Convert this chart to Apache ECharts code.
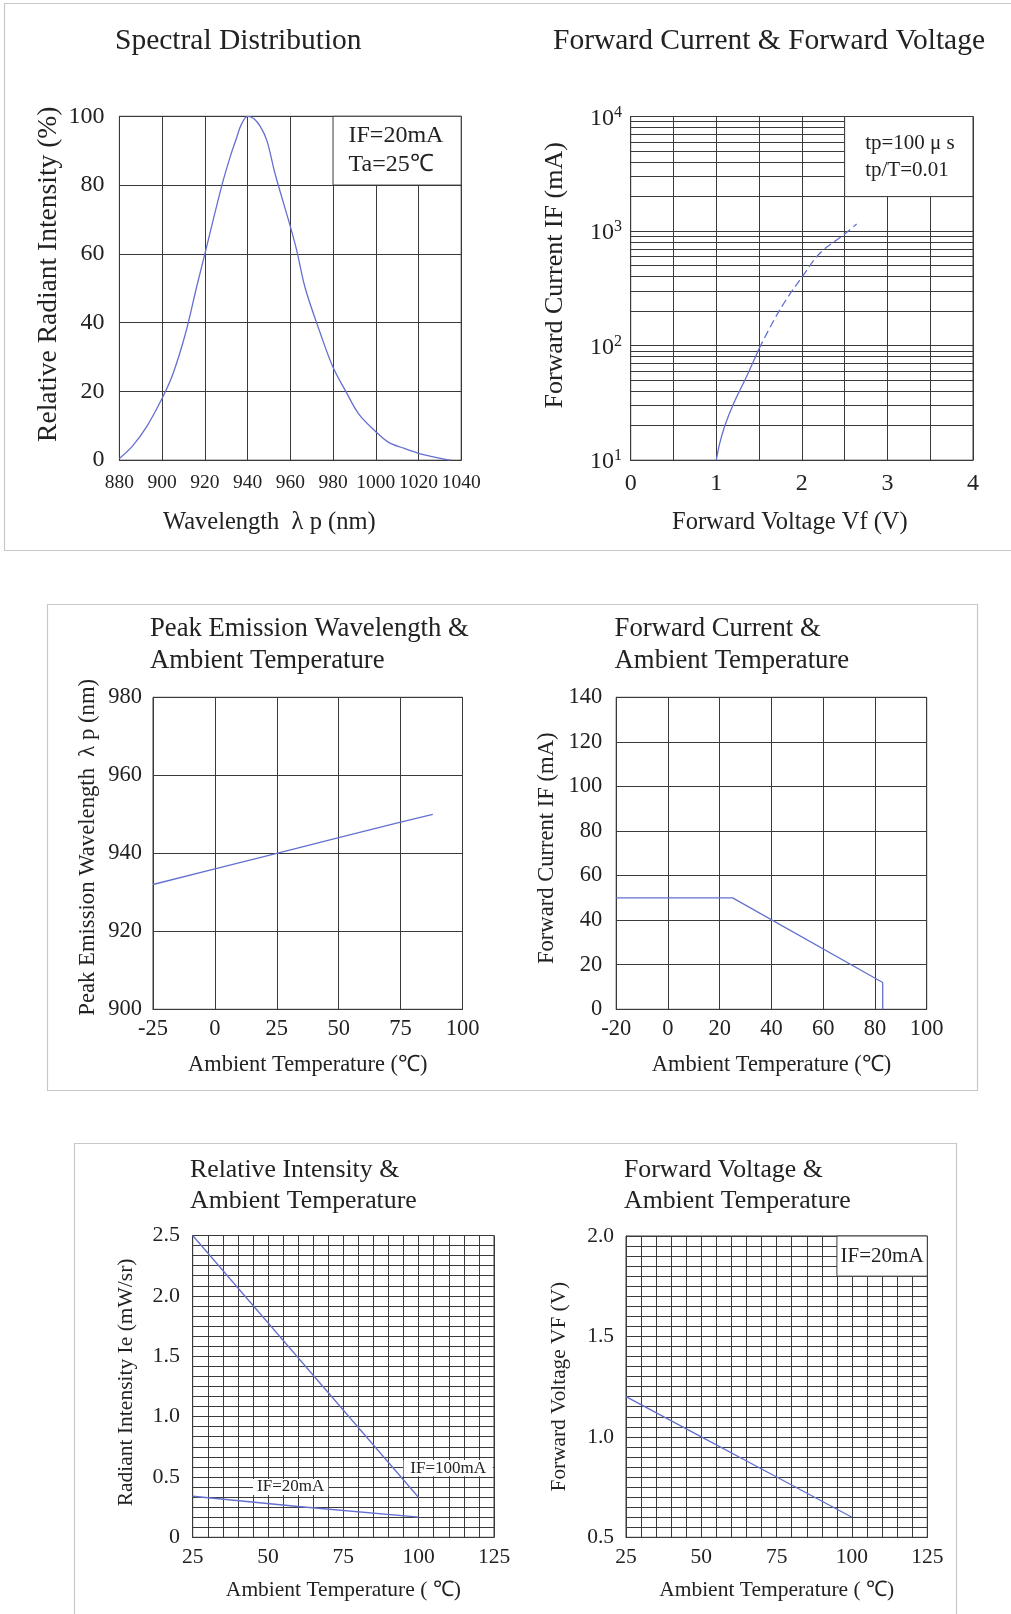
<!DOCTYPE html>
<html><head><meta charset="utf-8">
<style>html,body{margin:0;padding:0;background:#fff}#c{width:1011px;height:1614px}</style>
<script src="https://cdn.jsdelivr.net/npm/echarts@6/dist/echarts.min.js"></script>
</head><body><div id="c"></div>
<script>
// ---------- data ----------
// Panel 1: Spectral Distribution
const spectralWavelength = [880, 886, 893, 900, 905, 911, 916, 920, 928, 932, 935, 937, 940, 943, 946, 949, 953, 960, 963, 967, 974, 980, 986, 992, 1000, 1006, 1013, 1020, 1027, 1035];
const spectralIntensity  = [0.5, 4, 10, 18, 25, 37, 50, 60, 80, 88.5, 94, 97.5, 100, 99.3, 97, 93, 83, 68, 61, 50, 37, 27, 20, 13.5, 8.3, 5.2, 3.5, 2, 1, 0];
// Panel 2: Forward Current & Forward Voltage (log y)
const vfSolid  = [1.0, 1.04, 1.1, 1.2, 1.35, 1.5];
const ifSolid  = [10, 14, 20, 31, 53, 94];
const vfDashed = [1.5, 1.67, 1.82, 2.0, 2.21, 2.48, 2.64];
const ifDashed = [94, 165, 254, 395, 640, 918, 1150];
const ifMinorGrid = [20, 30, 40, 50, 60, 70, 80, 90, 200, 300, 400, 500, 600, 700, 800, 900, 2000, 3000, 4000, 5000, 6000, 7000, 8000, 9000];
// Panel 3: Peak Emission Wavelength & Ambient Temperature
const peakTemp = [-25, 0, 25, 50, 75, 88];
const peakWl   = [932, 936, 940, 944, 948, 950];
// Panel 4: Forward Current & Ambient Temperature
const ifTemp = [-20, 25, 83, 83];
const ifMax  = [50, 50, 12, 0];
// Panel 5: Relative Intensity & Ambient Temperature
const ieTemp100 = [25, 100];
const ie100     = [2.5, 0.33];
const ieTemp20  = [25, 60, 100];
const ie20      = [0.34, 0.255, 0.167];
// Panel 6: Forward Voltage & Ambient Temperature
const vfTemp = [25, 50, 75, 100];
const vfVal  = [1.2, 1.0, 0.8, 0.6];

// ---------- styling ----------
const FONT = '"Liberation Serif","Times New Roman",serif';
const TXT = '#222';
const GC = '#3a3a3a';
const LC = '#6470d0';
const FRAME = '#c8c8c8';

const pairs = (xs, ys) => xs.map((x, i) => [x, ys[i]]);

const grids = [
  {left: 119.4, top: 116.3, width: 341.8, height: 343.9},
  {left: 630.7, top: 116.5, width: 342.3, height: 343.7},
  {left: 153.0, top: 697.3, width: 309.5, height: 312.0},
  {left: 616.2, top: 697.3, width: 310.5, height: 312.0},
  {left: 192.7, top: 1235.5, width: 301.3, height: 301.8},
  {left: 626.0, top: 1236.0, width: 301.3, height: 301.3}
].map(g => Object.assign({show: true, borderColor: GC, borderWidth: 1, backgroundColor: 'transparent', containLabel: false, outerBoundsMode: 'none'}, g));

function axis(gi, c) {
  const a = {
    type: c.type || 'value', gridIndex: gi,
    min: c.min, max: c.max,
    name: c.name, nameLocation: 'middle', nameGap: c.nameGap,
    nameTextStyle: {fontFamily: FONT, fontSize: c.nameSize, color: TXT, verticalAlign: 'middle', align: 'center', padding: c.namePad || 0},
    axisLine: {show: true, onZero: false, lineStyle: {color: GC, width: 1}},
    axisTick: {show: false},
    axisLabel: {show: true, margin: c.margin, fontFamily: FONT, fontSize: c.labelSize, color: TXT,
      showMinLabel: true, showMaxLabel: true, hideOverlap: false,
      formatter: c.formatter || (v => String(v))},
    splitLine: {show: true, lineStyle: {color: GC, width: 1}},
    minorTick: {show: false, splitNumber: c.minor || 5},
    minorSplitLine: {show: !!c.minor, lineStyle: {color: GC, width: 1}},
    silent: true
  };
  if (c.interval !== undefined) a.interval = c.interval;
  if (c.logBase) a.logBase = c.logBase;
  if (c.rich) a.axisLabel.rich = c.rich;
  return a;
}

const xAxes = [
  axis(0, {min: 880, max: 1040, interval: 20, name: 'Wavelength  λ p (nm)', nameGap: 62, nameSize: 24.5, margin: 13, labelSize: 19.5, namePad: [0, 42, 0, 0]}),
  axis(1, {min: 0, max: 4, interval: 0.5, name: 'Forward Voltage Vf (V)', nameGap: 62, nameSize: 24.5, margin: 12, labelSize: 24, namePad: [0, 24, 0, 0],
    formatter: v => (Math.abs(v - Math.round(v)) < 1e-9 ? String(Math.round(v)) : '')}),
  axis(2, {min: -25, max: 100, interval: 25, name: 'Ambient Temperature (℃)', nameGap: 56, nameSize: 22.4, margin: 8.5, labelSize: 22.5}),
  axis(3, {min: -20, max: 100, interval: 20, name: 'Ambient Temperature (℃)', nameGap: 56, nameSize: 22.4, margin: 8.5, labelSize: 22.5}),
  axis(4, {min: 25, max: 125, interval: 25, minor: 5, name: 'Ambient Temperature ( ℃)', nameGap: 53, nameSize: 21.5, margin: 9.5, labelSize: 21.5}),
  axis(5, {min: 25, max: 125, interval: 25, minor: 5, name: 'Ambient Temperature ( ℃)', nameGap: 53, nameSize: 21.5, margin: 9.5, labelSize: 21.5})
];
const yAxes = [
  axis(0, {min: 0, max: 100, interval: 20, name: 'Relative Radiant Intensity (%)', nameGap: 71, nameSize: 27.5, margin: 15, labelSize: 24, namePad: [0, 0, 0, 28]}),
  axis(1, {type: 'log', logBase: 10, min: 10, max: 10000, name: 'Forward Current IF (mA)', nameGap: 76, nameSize: 26, margin: 8.7, labelSize: 24, namePad: [0, 0, 0, 26],
    formatter: v => '{b|10}{s|' + Math.round(Math.log10(v)) + '}',
    rich: {b: {fontFamily: FONT, fontSize: 24, color: TXT, lineHeight: 24, padding: [4, 0, 0, 0]},
           s: {fontFamily: FONT, fontSize: 16, color: TXT, lineHeight: 12, verticalAlign: 'top'}}}),
  axis(2, {min: 900, max: 980, interval: 20, name: 'Peak Emission Wavelength  λ p (nm)', nameGap: 65, nameSize: 22.7, margin: 11, labelSize: 22.5, namePad: [0, 0, 0, 12]}),
  axis(3, {min: 0, max: 140, interval: 20, name: 'Forward Current IF (mA)', nameGap: 69, nameSize: 22.6, margin: 14, labelSize: 22.5, namePad: [0, 0, 0, 10]}),
  axis(4, {min: 0, max: 2.5, interval: 0.5, minor: 6, name: 'Radiant Intensity Ie (mW/sr)', nameGap: 66, nameSize: 21.5, margin: 12.7, labelSize: 22, namePad: [0, 0, 0, 8],
    formatter: v => (v === 0 ? '0' : v.toFixed(1))}),
  axis(5, {min: 0.5, max: 2.0, interval: 0.5, minor: 10, name: 'Forward Voltage VF (V)', nameGap: 67, nameSize: 21.3, margin: 12, labelSize: 21.5,
    formatter: v => v.toFixed(1)})
];

const lineStyle = {color: LC, width: 1.3};
function boxArea(x0, y0, x1, y1, text, fs, lh, pos, dist) {
  return {
    silent: true, z: 10,
    itemStyle: {color: '#fff', opacity: 1, borderColor: GC, borderWidth: 1},
    label: {show: true, position: pos, distance: dist, formatter: text, fontFamily: FONT, fontSize: fs, lineHeight: lh, color: TXT},
    emphasis: {disabled: true},
    data: [[{xAxis: x0, yAxis: y0}, {xAxis: x1, yAxis: y1}]]
  };
}
function labelAreas(list) {
  return {
    silent: true, z: 10,
    itemStyle: {color: '#fff', opacity: 1, borderWidth: 0},
    emphasis: {disabled: true},
    data: list.map(b => [
      {xAxis: b[0], yAxis: b[1], label: {show: true, position: 'inside', formatter: b[4], fontFamily: FONT, fontSize: b[5], color: TXT}},
      {xAxis: b[2], yAxis: b[3]}])
  };
}

const series = [
  {type: 'line', xAxisIndex: 0, yAxisIndex: 0, data: pairs(spectralWavelength, spectralIntensity), symbol: 'none', smooth: 0.35, lineStyle, silent: true, z: 5,
    markArea: boxArea(980, 80, 1040, 100, 'IF=20mA\nTa=25℃', 24, 29, 'insideLeft', 16)},
  {type: 'line', xAxisIndex: 1, yAxisIndex: 1, data: pairs(vfSolid, ifSolid), symbol: 'none', smooth: 0.35, lineStyle, silent: true, z: 5,
    markLine: {silent: true, z: 3, symbol: ['none', 'none'], label: {show: false}, emphasis: {disabled: true},
      lineStyle: {color: GC, width: 1, type: 'solid'}, data: ifMinorGrid.map(v => ({yAxis: v}))},
    markArea: boxArea(2.5, 2000, 4, 10000, 'tp=100 μ s\ntp/T=0.01', 21, 27, 'insideLeft', 21)},
  {type: 'line', xAxisIndex: 1, yAxisIndex: 1, data: pairs(vfDashed, ifDashed), symbol: 'none', smooth: 0.35, silent: true, z: 5,
    lineStyle: {color: LC, width: 1.3, type: [8, 4]}},
  {type: 'line', xAxisIndex: 2, yAxisIndex: 2, data: pairs(peakTemp, peakWl), symbol: 'none', lineStyle, silent: true, z: 5},
  {type: 'line', xAxisIndex: 3, yAxisIndex: 3, data: pairs(ifTemp, ifMax), symbol: 'none', lineStyle, silent: true, z: 5},
  {type: 'line', xAxisIndex: 4, yAxisIndex: 4, data: pairs(ieTemp100, ie100), symbol: 'none', lineStyle, silent: true, z: 5,
    markArea: labelAreas([[95, 0.505, 124.6, 0.64, 'IF=100mA', 17], [45, 0.35, 70, 0.483, 'IF=20mA', 17]])},
  {type: 'line', xAxisIndex: 4, yAxisIndex: 4, data: pairs(ieTemp20, ie20), symbol: 'none', lineStyle, silent: true, z: 5},
  {type: 'line', xAxisIndex: 5, yAxisIndex: 5, data: pairs(vfTemp, vfVal), symbol: 'none', lineStyle, silent: true, z: 5,
    markArea: boxArea(95, 1.8, 125, 2.0, 'IF=20mA', 21, 24, 'inside', 0)}
];

const tStyle = fs => ({fontFamily: FONT, fontSize: fs, fontWeight: 'normal', color: TXT});
const titles = [
  {text: 'Spectral Distribution', left: 115, top: 24, padding: 0, textStyle: Object.assign(tStyle(29.5), {lineHeight: 34})},
  {text: 'Forward Current & Forward Voltage', left: 553, top: 24, padding: 0, textStyle: Object.assign(tStyle(29.5), {lineHeight: 34})},
  {text: 'Peak Emission Wavelength &\nAmbient Temperature', left: 150, top: 613, padding: 0, textStyle: Object.assign(tStyle(26.7), {lineHeight: 32})},
  {text: 'Forward Current &\nAmbient Temperature', left: 614.6, top: 613, padding: 0, textStyle: Object.assign(tStyle(26.7), {lineHeight: 32})},
  {text: 'Relative Intensity &\nAmbient Temperature', left: 190, top: 1155, padding: 0, textStyle: Object.assign(tStyle(25.8), {lineHeight: 31})},
  {text: 'Forward Voltage &\nAmbient Temperature', left: 624, top: 1155, padding: 0, textStyle: Object.assign(tStyle(25.8), {lineHeight: 31})}
];

const frameStyle = {stroke: FRAME, fill: 'none', lineWidth: 1.2};
const graphic = [
  {type: 'rect', silent: true, z: -1, shape: {x: 4.5, y: 3.5, width: 1100, height: 547}, style: frameStyle},
  {type: 'rect', silent: true, z: -1, shape: {x: 47.5, y: 604.5, width: 930, height: 486}, style: frameStyle},
  {type: 'rect', silent: true, z: -1, shape: {x: 74.5, y: 1143.5, width: 882, height: 600}, style: frameStyle}
];

const chart = echarts.init(document.getElementById('c'), null, {renderer: 'canvas'});
chart.setOption({
  animation: false,
  backgroundColor: '#fff',
  title: titles,
  grid: grids,
  xAxis: xAxes,
  yAxis: yAxes,
  series,
  graphic
});
</script></body></html>
